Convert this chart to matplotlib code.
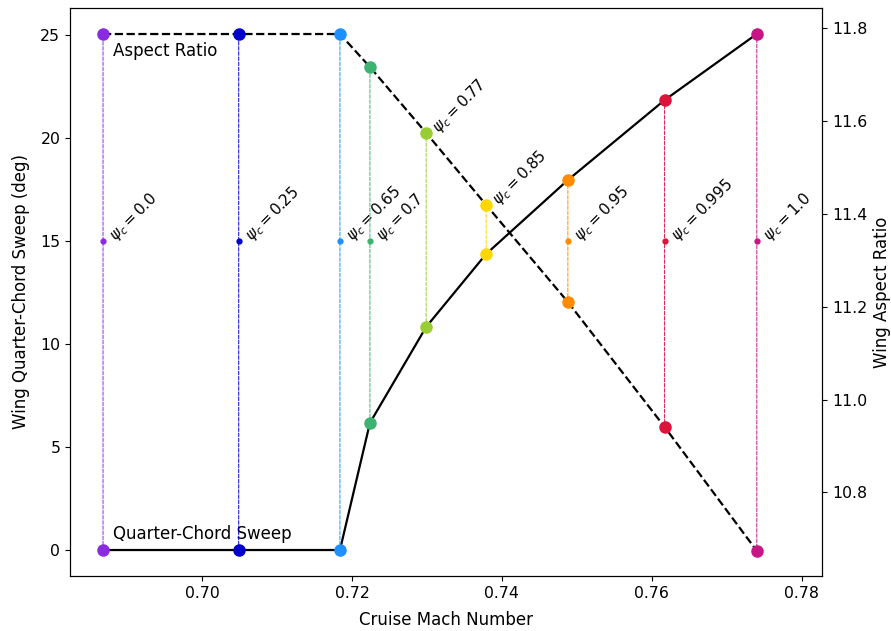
import matplotlib
matplotlib.use('Agg')
import matplotlib.pyplot as plt
from matplotlib.patches import ConnectionPatch

plt.rcParams['font.size'] = 12
plt.rcParams['xtick.labelsize'] = 11.3
plt.rcParams['ytick.labelsize'] = 11.3
plt.rcParams['axes.labelpad'] = 7.5

# Sweep / aspect ratio trade vs. cruise Mach for each psi_c setting
psi_c = [0.0, 0.25, 0.65, 0.7, 0.77, 0.85, 0.95, 0.995, 1.0]
mach = [0.6868, 0.7049, 0.7184, 0.7224, 0.7299, 0.7379, 0.7488, 0.7617, 0.7740]
sweep = [0.0, 0.0, 0.0, 6.17, 10.83, 14.37, 17.96, 21.84, 25.05]
aspect_ratio = [11.787, 11.787, 11.787, 11.716, 11.574, 11.419, 11.210, 10.941, 10.674]
colors = ['blueviolet', 'mediumblue', 'dodgerblue', 'mediumseagreen', 'yellowgreen',
          'gold', 'darkorange', 'crimson', 'mediumvioletred']
# labels for crowded cases sit on the aspect ratio point instead of the label row
label_on_ar = [False, False, False, False, True, True, False, False, False]
label_y = 15

fig, ax1 = plt.subplots(figsize=(8.91, 6.31), dpi=100)
fig.subplots_adjust(left=0.0786, right=0.9226, top=0.9873, bottom=0.0872)
ax2 = ax1.twinx()

ax1.plot(mach, sweep, color='black', lw=1.6, zorder=2)
ax2.plot(mach, aspect_ratio, color='black', lw=1.6, ls='--', zorder=2)

ax1.set_xlim(0.6824, 0.7827)
ax1.set_ylim(-1.26, 26.31)
ax2.set_ylim(10.620, 11.843)

for m, s, ar, c, p, on_ar in zip(mach, sweep, aspect_ratio, colors, psi_c, label_on_ar):
    # vertical link between the sweep point and the aspect ratio point
    con = ConnectionPatch(xyA=(m, s), coordsA=ax1.transData,
                          xyB=(m, ar), coordsB=ax2.transData,
                          color=c, lw=0.7, ls='--', zorder=1)
    ax2.add_artist(con)
    ax1.plot(m, s, 'o', color=c, ms=8, zorder=3)
    ax2.plot(m, ar, 'o', color=c, ms=8, zorder=3)
    label = r'$\psi_c = %s$' % p
    if on_ar:
        ax2.annotate(label, (m, ar), xytext=(2, -3), fontsize=11,
                     textcoords='offset points', rotation=45, ha='left', va='bottom')
    else:
        ax1.plot(m, label_y, 'o', color=c, ms=3.5, zorder=3)
        ax1.annotate(label, (m, label_y), xytext=(2, -3), fontsize=11,
                     textcoords='offset points', rotation=45, ha='left', va='bottom')

ax2.annotate('Aspect Ratio', (mach[0], aspect_ratio[0]), xytext=(7, -6),
             textcoords='offset points', ha='left', va='top')
ax1.annotate('Quarter-Chord Sweep', (mach[0], sweep[0]), xytext=(7, 5),
             textcoords='offset points', ha='left', va='bottom')

ax1.set_xlabel('Cruise Mach Number')
ax1.set_ylabel('Wing Quarter-Chord Sweep (deg)')
ax2.set_ylabel('Wing Aspect Ratio', labelpad=4)

fig.savefig('out.png', dpi=100)
